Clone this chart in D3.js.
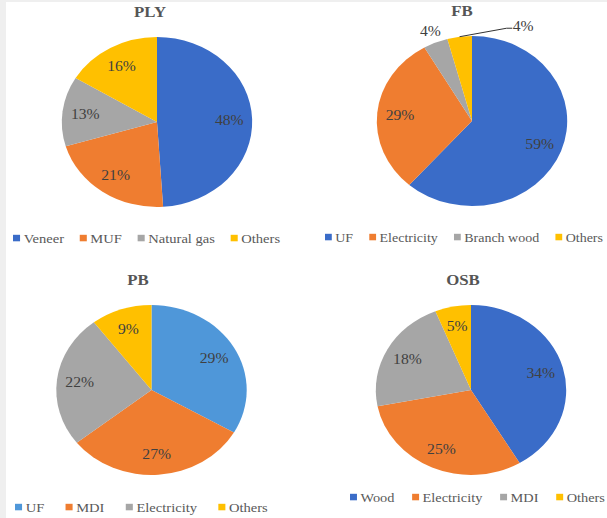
<!DOCTYPE html>
<html>
<head>
<meta charset="utf-8">
<script src="https://cdn.jsdelivr.net/npm/d3@7"></script>
<style>
  html, body { margin: 0; padding: 0; background: #fff; }
  svg { display: block; }
</style>
</head>
<body>
<svg id="chart" width="607" height="518"></svg>
<script>
// Energy / material shares for four wood-based panel products
const plyCategories = ["Veneer", "MUF", "Natural gas", "Others"];
const plyValues = [48, 21, 13, 16];

const fbCategories = ["UF", "Electricity", "Branch wood", "Others"];
const fbValues = [59, 29, 4, 4];

const pbCategories = ["UF", "MDI", "Electricity", "Others"];
const pbValues = [29, 27, 22, 9];

const osbCategories = ["Wood", "Electricity", "MDI", "Others"];
const osbValues = [34, 25, 18, 5];

const BLUE = "#3a6cc8", LIGHT_BLUE = "#4f97d9", ORANGE = "#ef7d30", GRAY = "#a6a6a6", GOLD = "#ffc000";

// pick the first installed Times-like face
function pickSerif() {
  const candidates = ["Liberation Serif", "Times New Roman", "Tinos", "Noto Serif", "DejaVu Serif",
                      "FreeSerif", "Nimbus Roman", "Nimbus Roman No9 L", "Times"];
  const ctx = document.createElement("canvas").getContext("2d");
  const probe = "mmmWWWiiilll 0123456789%";
  const base = {};
  ["monospace", "sans-serif"].forEach(b => { ctx.font = `40px ${b}`; base[b] = ctx.measureText(probe).width; });
  for (const c of candidates) {
    let found = true;
    for (const b of ["monospace", "sans-serif"]) {
      ctx.font = `40px "${c}", ${b}`;
      if (Math.abs(ctx.measureText(probe).width - base[b]) < 0.01) { found = false; break; }
    }
    if (found) return `"${c}", serif`;
  }
  return "serif";
}
const FONT = pickSerif();

// Panel layout (pie centre, title and legend placement; legend spans legendX..legendX+legendW)
const panels = [
  { title: "PLY", cats: plyCategories, vals: plyValues, colors: [BLUE, ORANGE, GRAY, GOLD],
    cx: 157, cy: 122, titleX: 150, legendX: 13, legendW: 279, legendY: 238, legendGap: 14, labels: ["in", "in", "in", "in"] },
  { title: "FB", cats: fbCategories, vals: fbValues, colors: [BLUE, ORANGE, GRAY, GOLD],
    cx: 472, cy: 121, titleX: 462, legendX: 325, legendW: 278, legendY: 237, legendGap: 15, labels: ["in", "in", "out", "leader"] },
  { title: "PB", cats: pbCategories, vals: pbValues, colors: [LIGHT_BLUE, ORANGE, GRAY, GOLD],
    cx: 151.5, cy: 390, titleX: 138, legendX: 15, legendW: 263, legendY: 507, legendGap: 19, labels: ["in", "in", "in", "in"] },
  { title: "OSB", cats: osbCategories, vals: osbValues, colors: [BLUE, ORANGE, GRAY, GOLD],
    cx: 471, cy: 390, titleX: 463, legendX: 350, legendW: 255, legendY: 497, legendGap: 16, labels: ["in", "in", "in", "in"] }
];

const SX = 1.12;      // horizontal stretch of each panel
const R = 85;         // pie radius (vertical)
const LABEL_R = 0.76 * R;

const svg = d3.select("#chart").attr("font-family", FONT);

// page frame
svg.append("rect").attr("width", 607).attr("height", 518).attr("fill", "#fff");
svg.append("rect").attr("x", 0).attr("y", 0).attr("width", 6).attr("height", 518).attr("fill", "#efefef");
svg.append("rect").attr("x", 0).attr("y", 0).attr("width", 607).attr("height", 2).attr("fill", "#efefef");

const pie = d3.pie().sort(null).value(d => d);
const arc = d3.arc().innerRadius(0).outerRadius(R);
const labelArc = d3.arc().innerRadius(LABEL_R).outerRadius(LABEL_R);
const outArc = d3.arc().innerRadius(R * 1.14).outerRadius(R * 1.14);

panels.forEach(p => {
  // title
  svg.append("g")
    .attr("transform", `translate(${p.titleX},${p.cy - 105}) scale(${SX},1)`)
    .append("text")
    .attr("text-anchor", "middle")
    .attr("font-size", 15).attr("font-weight", "bold").attr("fill", "#555")
    .text(p.title);

  const g = svg.append("g").attr("transform", `translate(${p.cx},${p.cy}) scale(${SX},1)`);
  const arcs = pie(p.vals);

  g.selectAll("path.slice").data(arcs).join("path")
    .attr("class", "slice")
    .attr("d", arc)
    .attr("fill", (d, i) => p.colors[i]);

  arcs.forEach((d, i) => {
    const mode = p.labels[i];
    const txt = `${p.vals[i]}%`;
    if (mode === "in" || mode === "out") {
      const [x, y] = (mode === "in" ? labelArc : outArc).centroid(d);
      g.append("text")
        .attr("x", x).attr("y", y).attr("dy", "0.35em")
        .attr("text-anchor", "middle")
        .attr("font-size", 14).attr("fill", "#404040")
        .text(txt);
    } else {
      const a = (d.startAngle + d.endAngle) / 2;
      const sx = R * Math.sin(a), sy = -R * Math.cos(a);
      const ex = sx + 42, ey = sy - 8.5;
      g.append("path")
        .attr("d", d3.line()([[sx, sy], [ex, ey], [ex + 5, ey]]))
        .attr("fill", "none").attr("stroke", "#333").attr("stroke-width", 1)
        .attr("vector-effect", "non-scaling-stroke");
      g.append("text")
        .attr("x", ex + 5.5).attr("y", ey).attr("dy", "0.2em")
        .attr("text-anchor", "start")
        .attr("font-size", 14).attr("fill", "#404040")
        .text(txt);
    }
  });

  // legend: lay out items, then fit the row into its span
  const lgOuter = svg.append("g").attr("transform", `translate(${p.legendX},${p.legendY})`);
  const lg = lgOuter.append("g");
  let x = 0, end = 0;
  p.cats.forEach((c, i) => {
    lg.append("rect")
      .attr("x", x).attr("y", -3.2).attr("width", 6.3).attr("height", 6.5)
      .attr("fill", p.colors[i]);
    const t = lg.append("text")
      .attr("x", x + 9.5).attr("y", 0).attr("dy", "0.35em")
      .attr("font-size", 13).attr("fill", "#595959")
      .text(c);
    end = x + 9.5 + t.node().getComputedTextLength();
    x = end + p.legendGap;
  });
  const fit = Math.min(SX, p.legendW / end);
  lg.attr("transform", `scale(${fit},1)`);
});
</script>
</body>
</html>
